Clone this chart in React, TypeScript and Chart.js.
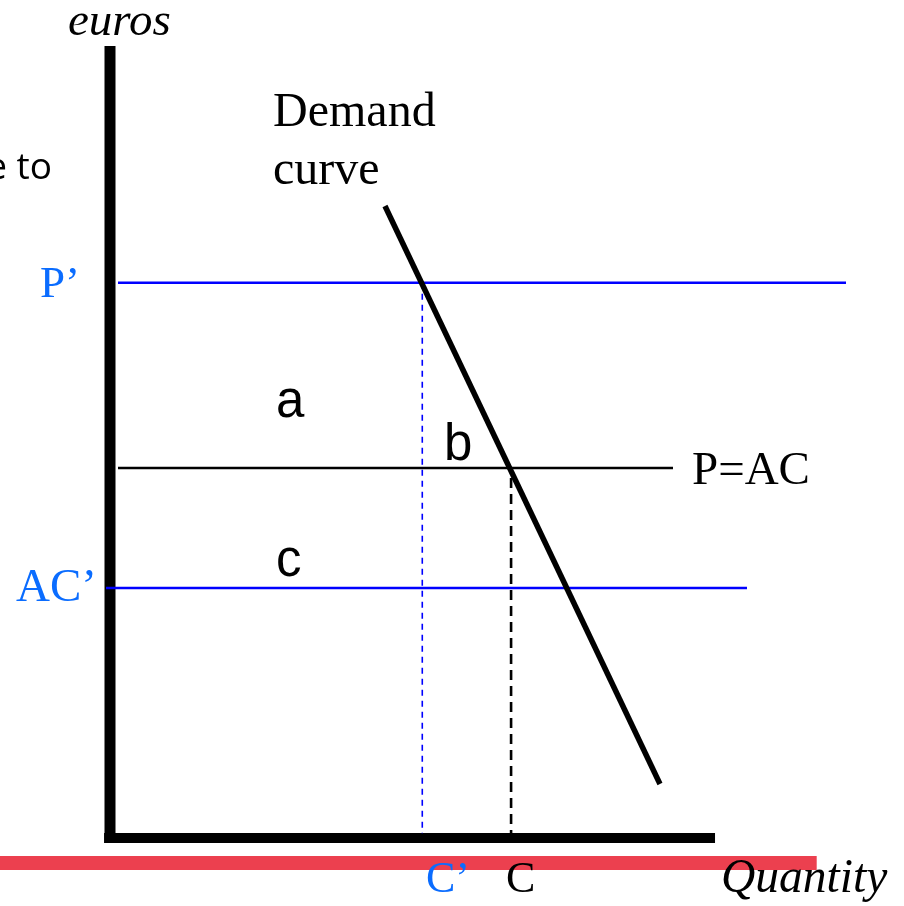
import React, { useEffect, useRef } from "react";
import { Chart, registerables } from "chart.js";

Chart.register(...registerables);

// ---- conceptual values (quantity on x, euros on y) ----
const demandQ = [37.16, 74.32];
const demandP = [79.0, 6.75];
const priceHigh = 69.4; // P'
const priceEq = 46.25; // P = AC
const costLow = 31.25; // AC'
const qCprime = 42.2; // C'
const qC = 54.2; // C
const pLineQ = [1.08, 99.46];
const eqLineQ = [1.08, 76.08];
const acLineQ = [-0.54, 86.08];
const qDashTop = 45.0;
const axisYTop = 99.0;
const axisXEnd = 81.76;
const redBarQ = [-14.9, 95.5];
const redBarP = -3.125;

type Lbl = { text: string; x: number; y: number; font: string; color: string; align?: CanvasTextAlign };
const SERIF = '"Liberation Serif", "Times New Roman", serif';
const SANS = '"Liberation Sans", Arial, sans-serif';
const BLUE_TXT = "#0A6CFF";

const labels: Lbl[] = [
  { text: "euros", x: -5.68, y: 100.375, font: `italic 47px ${SERIF}`, color: "#000" },
  { text: "Demand", x: 22.03, y: 89.0, font: `48px ${SERIF}`, color: "#000" },
  { text: "curve", x: 22.03, y: 81.75, font: `48px ${SERIF}`, color: "#000" },
  { text: "P=AC", x: 78.65, y: 44.25, font: `47px ${SERIF}`, color: "#000" },
  { text: "a", x: 22.43, y: 52.6, font: `51px ${SANS}`, color: "#000" },
  { text: "b", x: 45.14, y: 47.25, font: `51px ${SANS}`, color: "#000" },
  { text: "c", x: 22.43, y: 32.75, font: `51px ${SANS}`, color: "#000" },
  { text: "P\u2019", x: -9.46, y: 67.625, font: `45px ${SERIF}`, color: BLUE_TXT },
  { text: "AC\u2019", x: -12.7, y: 29.625, font: `47px ${SERIF}`, color: BLUE_TXT },
  { text: "C\u2019", x: 42.7, y: -6.75, font: `44px ${SERIF}`, color: BLUE_TXT },
  { text: "C", x: 53.5, y: -6.75, font: `44px ${SERIF}`, color: "#000" },
  { text: "Quantity", x: 82.57, y: -6.75, font: `italic 47.5px ${SERIF}`, color: "#000" },
  { text: "e to", x: -7.84, y: 82.375, font: `37px "Open Sans", sans-serif`, color: "#000", align: "right" },
  { text: ",", x: -14.6, y: 67.1, font: `30px "Open Sans", sans-serif`, color: "#000", align: "right" },
];

const textPlugin = {
  id: "textLabels",
  afterDatasetsDraw(chart: any) {
    const { ctx, scales } = chart;
    ctx.save();
    ctx.textBaseline = "alphabetic";
    for (const l of labels) {
      ctx.font = l.font;
      ctx.fillStyle = l.color;
      ctx.textAlign = l.align || "left";
      ctx.fillText(l.text, scales.x.getPixelForValue(l.x), scales.y.getPixelForValue(l.y));
    }
    ctx.restore();
  },
};

function seg(x: number[], y: number[]) {
  return [
    { x: x[0], y: y[0] },
    { x: x[1], y: y[1] },
  ];
}

export default function App() {
  const ref = useRef<HTMLCanvasElement>(null);
  useEffect(() => {
    if (!ref.current) return;
    const base = { showLine: true, pointRadius: 0, fill: false, clip: false as any, borderCapStyle: "butt" as const };
    const chart = new Chart(ref.current, {
      type: "scatter",
      data: {
        datasets: [
          { ...base, label: "Demand", data: seg(demandQ, demandP), borderColor: "#000", borderWidth: 5.5 },
          { ...base, label: "P'", data: seg(pLineQ, [priceHigh, priceHigh]), borderColor: "#0000FF", borderWidth: 2.5 },
          { ...base, label: "P=AC", data: seg(eqLineQ, [priceEq, priceEq]), borderColor: "#000", borderWidth: 2.5 },
          { ...base, label: "AC'", data: seg(acLineQ, [costLow, costLow]), borderColor: "#0000FF", borderWidth: 2.5 },
          { ...base, label: "C'", data: seg([qCprime, qCprime], [priceHigh, 0.6]), borderColor: "#0000FF", borderWidth: 1.6, borderDash: [6, 5] },
          { ...base, label: "C", data: seg([qC, qC], [qDashTop, 0.6]), borderColor: "#000", borderWidth: 2.6, borderDash: [10, 6] },
          { ...base, label: "y axis", data: seg([0, 0], [axisYTop, -0.625]), borderColor: "#000", borderWidth: 11 },
          { ...base, label: "x axis", data: seg([-0.8, axisXEnd], [0, 0]), borderColor: "#000", borderWidth: 10 },
          { ...base, label: "bar", data: seg(redBarQ, [redBarP, redBarP]), borderColor: "#EC404F", borderWidth: 14 },
        ],
      },
      options: {
        animation: false,
        responsive: false,
        devicePixelRatio: 1,
        layout: { padding: { left: 110, right: 54, top: 38, bottom: 68 } },
        scales: {
          x: { type: "linear", min: 0, max: 100, display: false },
          y: { type: "linear", min: 0, max: 100, display: false },
        },
        plugins: { legend: { display: false }, tooltip: { enabled: false } },
      },
      plugins: [textPlugin],
    });
    return () => chart.destroy();
  }, []);
  return (
    <div style={{ position: "absolute", left: 0, top: 0, width: 904, height: 906, background: "#fff" }}>
      <canvas ref={ref} width={904} height={906} />
    </div>
  );
}
